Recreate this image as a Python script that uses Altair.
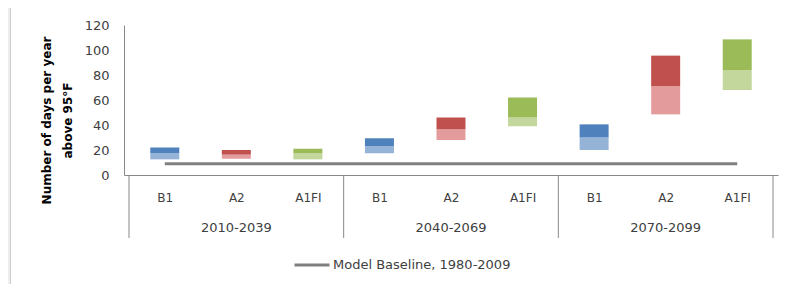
import altair as alt
import pandas as pd

# ---- data ----
periods = ["2010-2039", "2040-2069", "2070-2099"]
scenarios = ["B1", "A2", "A1FI"]
low_values = [12.5, 13.0, 12.5, 17.5, 28.0, 39.0, 20.0, 48.5, 68.0]
mid_values = [17.5, 16.3, 17.3, 23.0, 36.5, 46.0, 30.0, 71.0, 84.0]
high_values = [22.0, 20.0, 21.0, 29.5, 46.0, 62.0, 40.5, 95.5, 108.5]
baseline_value = 9
baseline_label = "Model Baseline, 1980-2009"
y_ticks = [0, 20, 40, 60, 80, 100, 120]

dark_colors = {"B1": "#4f81bd", "A2": "#c0504d", "A1FI": "#9bbb59"}
light_colors = {"B1": "#95b3d7", "A2": "#e39c9b", "A1FI": "#c3d69b"}

FONT = "DejaVu Sans"
TEXT = "#404040"
AXIS = "#888888"

# ---- tables ----
rows = []
idx = 0
for p in periods:
    for s in scenarios:
        rows.append({"idx": idx, "period": p, "scenario": s, "part": "light",
                     "y0": low_values[idx], "y1": mid_values[idx], "key": s + "-light"})
        rows.append({"idx": idx, "period": p, "scenario": s, "part": "dark",
                     "y0": mid_values[idx], "y1": high_values[idx], "key": s + "-dark"})
        idx += 1
bars_df = pd.DataFrame(rows)
n = len(periods) * len(scenarios)

keys = [s + "-light" for s in scenarios] + [s + "-dark" for s in scenarios]
key_colors = [light_colors[s] for s in scenarios] + [dark_colors[s] for s in scenarios]

base_df = pd.DataFrame({"x0": [0], "x1": [n - 1], "v": [baseline_value], "label": [baseline_label]})
div_df = pd.DataFrame({"b": [len(scenarios) * k - 0.5 for k in range(len(periods) + 1)]})
grp_df = pd.DataFrame({"c": [len(scenarios) * k + (len(scenarios) - 1) / 2 for k in range(len(periods))],
                       "period": periods})

label_expr = "[" + ",".join("'%s'" % s for s in scenarios) + "][datum.value % " + str(len(scenarios)) + "]"

xscale = alt.Scale(domain=[-0.5, n - 0.5], nice=False, zero=False)
yscale = alt.Scale(domain=[0, 120], nice=False)

x_axis = alt.Axis(values=list(range(n)), labelExpr=label_expr, grid=False, ticks=False,
                  tickSize=0, domainColor=AXIS, labelPadding=22, labelBaseline="middle",
                  labelFontSize=12, labelColor=TEXT, labelFlush=False, labelOverlap=False,
                  title=None)
y_axis = alt.Axis(values=y_ticks, grid=False, ticks=False, tickSize=0, domainColor=AXIS,
                  labelPadding=15, labelFontSize=13, labelColor=TEXT, labelFlush=False,
                  labelOverlap=False,
                  title=["Number of days per year", "above 95°F"],
                  titleFontSize=12, titleFontWeight="bold", titleColor="#000000",
                  titleAngle=270, titleX=-74, titleY=95, titleAlign="center",
                  titleBaseline="alphabetic", titleLineHeight=21)

bars = alt.Chart(bars_df).mark_bar(size=29).encode(
    x=alt.X("idx:Q", scale=xscale, axis=x_axis),
    y=alt.Y("y0:Q", scale=yscale, axis=y_axis),
    y2="y1:Q",
    color=alt.Color("key:N", scale=alt.Scale(domain=keys, range=key_colors), legend=None),
)

baseline = alt.Chart(base_df).mark_rule(strokeWidth=3).encode(
    x=alt.X("x0:Q", scale=xscale, axis=x_axis),
    x2="x1:Q",
    y=alt.Y("v:Q", scale=yscale, axis=y_axis),
    stroke=alt.Stroke("label:N", scale=alt.Scale(range=["#808080"]),
                      legend=alt.Legend(orient="none", legendX=169, legendY=221, title=None,
                                        symbolType="stroke", symbolSize=1225, symbolStrokeWidth=3,
                                        labelFontSize=13, labelOffset=2, labelColor=TEXT,
                                        labelLimit=400)),
)

dividers = alt.Chart(div_df).mark_rule(color=AXIS).encode(
    x=alt.X("b:Q", scale=xscale, axis=x_axis),
    y=alt.value(150),
    y2=alt.value(213),
)

groups = alt.Chart(grp_df).mark_text(fontSize=13, color=TEXT, baseline="middle").encode(
    x=alt.X("c:Q", scale=xscale, axis=x_axis),
    y=alt.value(203),
    text="period:N",
)

frame_df = pd.DataFrame({"a": [0]})
frame_fill = alt.Chart(frame_df).mark_rect(color="#eeeeee").encode(
    x=alt.value(-116), x2=alt.value(-114), y=alt.value(-17), y2=alt.value(259))
frame_line = alt.Chart(frame_df).mark_rule(color="#cccccc").encode(
    x=alt.value(-113.5), y=alt.value(-17), y2=alt.value(259))

chart = alt.layer(frame_fill, frame_line, bars, dividers, baseline, groups).properties(
    width=654, height=150,
    padding={"left": 116, "top": 17, "right": 2, "bottom": 109},
    autosize=alt.AutoSizeParams(type="none"),
    background="white",
).configure(font=FONT).configure_view(stroke=None).configure_axis(labelOverlap=False)

chart.save("out.html", embed_options={"renderer": "svg", "actions": False})
